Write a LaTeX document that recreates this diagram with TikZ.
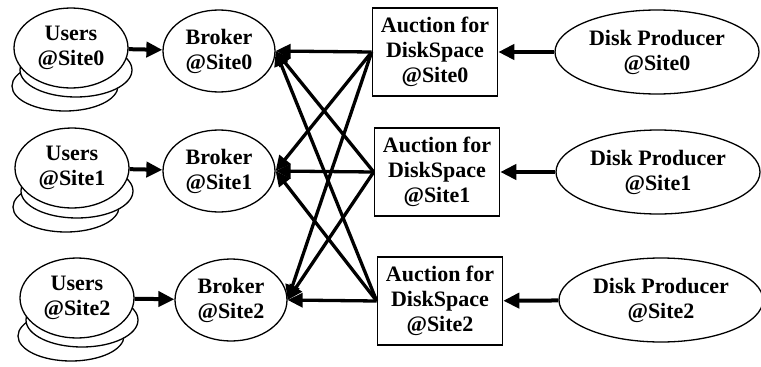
\documentclass[tikz,border=0pt]{standalone}
\usepackage{fontspec}
\setmainfont{Liberation Serif}
\usetikzlibrary{arrows.meta,shapes.geometric}

\tikzset{
  site/.style={draw,line width=1.3pt,ellipse,inner sep=0pt,fill=white,align=center,
    font=\fontsize{22}{25}\selectfont\bfseries},
  users/.style={site,minimum width=114pt,minimum height=80pt},
  broker/.style={site,minimum width=112pt,minimum height=82pt},
  producer/.style={site,minimum width=204pt,minimum height=84pt},
  auction/.style={draw,line width=1.6pt,rectangle,inner sep=0pt,align=center,
    minimum width=125pt,minimum height=88pt,font=\fontsize{22}{25}\selectfont\bfseries},
  pile/.style={draw,line width=1.3pt,fill=white},
  feed/.style={line width=4pt,-{Triangle[length=16pt,width=15pt]}},
  bid/.style={line width=3.3pt,-{Triangle[length=15pt,width=14pt]}}
}

\begin{document}
\begin{tikzpicture}[x=1pt,y=-1pt]

\useasboundingbox (0,0) rectangle (761,367);

% stacked users
\draw[pile] (65,86) ellipse (53 and 25);
\draw[pile] (76,70) ellipse (56 and 27);
\draw[pile] (66,207) ellipse (53 and 25);
\draw[pile] (77,191) ellipse (56 and 27);
\draw[pile] (71,336) ellipse (53 and 25);
\draw[pile] (82,320) ellipse (56 and 27);

\node[users] (users0) at (71,48) {Users\\@Site0};
\node[users] (users1) at (72,168) {Users\\@Site1};
\node[users] (users2) at (77,298) {Users\\@Site2};

\node[broker] (broker0) at (219,51) {Broker\\@Site0};
\node[broker] (broker1) at (219,171) {Broker\\@Site1};
\node[broker] (broker2) at (231,300) {Broker\\@Site2};

\node[auction] (auction0) at (435,52) {Auction for\\DiskSpace\\@Site0};
\node[auction] (auction1) at (437,172) {Auction for\\DiskSpace\\@Site1};
\node[auction] (auction2) at (440,301) {Auction for\\DiskSpace\\@Site2};

\node[producer] (producer0) at (657,52) {Disk Producer\\@Site0};
\node[producer] (producer1) at (658,172) {Disk Producer\\@Site1};
\node[producer] (producer2) at (661,300) {Disk Producer\\@Site2};

\draw[feed] (users0) -- (broker0);
\draw[feed] (users1) -- (broker1);
\draw[feed] (users2) -- (broker2);

\draw[feed] (producer0) -- (auction0);
\draw[feed] (producer1) -- (auction1);
\draw[feed] (producer2) -- (auction2);

% every auction sells to every broker
\draw[bid] (auction0.west) -- (broker0.east);
\draw[bid] (auction0.west) -- (broker1.east);
\draw[bid] (auction0.west) -- (broker2.east);
\draw[bid] (auction1.west) -- (broker0.east);
\draw[bid] (auction1.west) -- (broker1.east);
\draw[bid] (auction1.west) -- (broker2.east);
\draw[bid] (auction2.west) -- (broker0.east);
\draw[bid] (auction2.west) -- (broker1.east);
\draw[bid] (auction2.west) -- (broker2.east);

\end{tikzpicture}
\end{document}
